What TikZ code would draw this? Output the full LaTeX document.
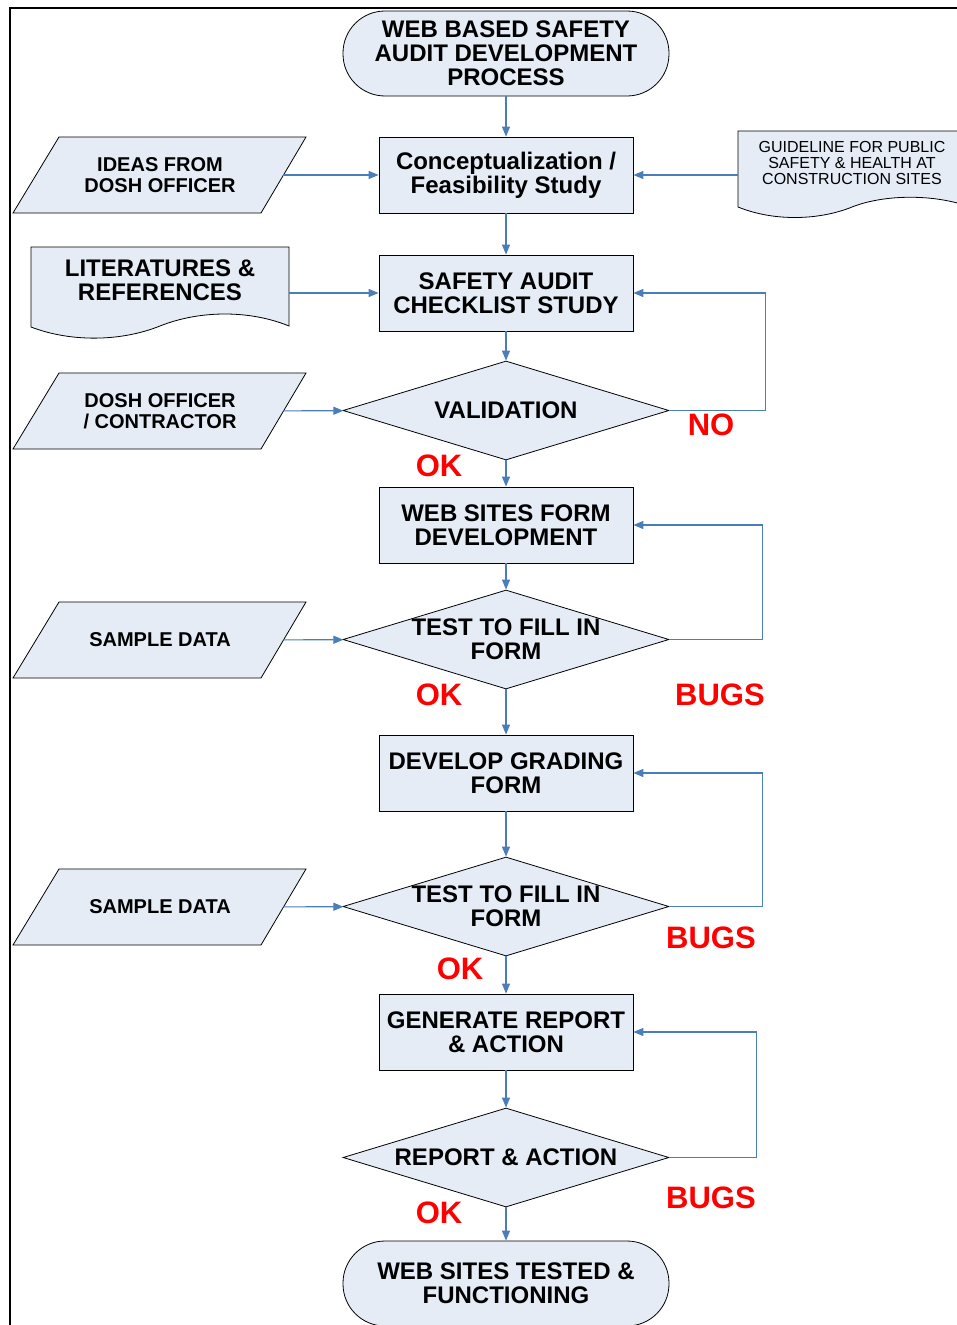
\documentclass[tikz,border=0pt]{standalone}
\usepackage{fontspec}
\setmainfont{Liberation Sans}
\usetikzlibrary{shapes.geometric,arrows.meta}

\definecolor{flowfill}{HTML}{E6ECF6}
\definecolor{flowblue}{HTML}{4A7EBB}
\definecolor{flowred}{HTML}{FF0000}

\begin{document}
\begin{tikzpicture}[x = 1pt, y = -1pt,
		every node/.style = {align = center, inner sep = 0pt},
		bigtext/.style = {font = \fontsize{24}{24}\selectfont\bfseries},
		midtext/.style = {font = \fontsize{20}{21}\selectfont\bfseries},
		smalltext/.style = {font = \fontsize{16}{16}\selectfont},
		redtext/.style = {text = flowred, font = \fontsize{31}{31}\selectfont\bfseries},
		shapeline/.style = {draw = black, fill = flowfill, line width = \mylinewidth},
		terminal/.style = {shapeline, rounded corners = 42pt, minimum width = 326, minimum height = 85, bigtext},
		process/.style = {shapeline, rectangle, minimum width = 254, minimum height = 76, bigtext},
		decision/.style = {shapeline, diamond, minimum width = 326, minimum height = 99},
		datain/.style = {rectangle, minimum width = 246, minimum height = 76, midtext},
		docarea/.style = {rectangle},
		flow/.style = {draw = flowblue, line width = \myarrowwidth, -{Triangle[length = 10pt, width = 8pt]}}]
		\def\mylinewidth{0.8pt}
		\def\myarrowwidth{1.1pt}
		\useasboundingbox (0,0) rectangle (957,1325);
		%--------------------

		\draw[line width = 2pt] (10,1325) -- (10,8) -- (957,8);

		% documents
		\filldraw[shapeline] (31,247) -- (289,247) -- (289,326) .. controls (250,310) and (200,310) .. (160,326)
			.. controls (120,342) and (70,342) .. (31,327) -- cycle;
		\filldraw[shapeline] (738,131) -- (970,131) -- (970,207) .. controls (935,194) and (885,194) .. (852,207)
			.. controls (820,220) and (775,222) .. (738,207) -- cycle;

		\node[docarea, minimum width = 258, minimum height = 92] (lit) at (160,293) {};
		\node[bigtext] at (160,280) {LITERATURES \&\\REFERENCES};
		\node[docarea, minimum width = 228, minimum height = 88] (guide) at (852,175) {};
		\node[smalltext] at (852,163) {GUIDELINE FOR PUBLIC\\SAFETY \& HEALTH AT\\CONSTRUCTION SITES};

		% data inputs
		\foreach \cy in {175, 411, 640, 907}
			\filldraw[shapeline] (13,\cy+38) -- (261,\cy+38) -- (306,\cy-38) -- (59,\cy-38) -- cycle;

		\node[datain] (ideas) at (160,175) {IDEAS FROM\\DOSH OFFICER};
		\node[datain] (dosh) at (160,411) {DOSH OFFICER\\/ CONTRACTOR};
		\node[datain] (samplea) at (160,640) {SAMPLE DATA};
		\node[datain] (sampleb) at (160,907) {SAMPLE DATA};

		%--------------------
		\node[terminal] (start) at (506,53.5) {WEB BASED SAFETY\\AUDIT DEVELOPMENT\\PROCESS};
		\node[process] (concept) at (506,175) {Conceptualization /\\Feasibility Study};
		\node[process] (check) at (506,293) {SAFETY AUDIT\\CHECKLIST STUDY};
		\node[decision, label = {[bigtext]center:VALIDATION}] (valid) at (506,410.5) {};
		\node[process] (webform) at (506,525) {WEB SITES FORM\\DEVELOPMENT};
		\node[decision, label = {[bigtext, align = center]center:TEST TO FILL IN\\FORM}] (testa) at (506,639.5) {};
		\node[process] (grading) at (506,773) {DEVELOP GRADING\\FORM};
		\node[decision, label = {[bigtext, align = center]center:TEST TO FILL IN\\FORM}] (testb) at (506,906.5) {};
		\node[process] (report) at (506,1032) {GENERATE REPORT\\\& ACTION};
		\node[decision, label = {[bigtext]center:REPORT \& ACTION}] (action) at (506,1157.5) {};
		\node[terminal] (finish) at (506,1283.5) {WEB SITES TESTED \&\\FUNCTIONING};

		%--------------------
		\draw[flow] (start) -- (concept);
		\draw[flow] (ideas) -- (concept);
		\draw[flow] (guide) -- (concept);
		\draw[flow] (concept) -- (check);
		\draw[flow] (lit) -- (check);
		\draw[flow] (check) -- (valid);
		\draw[flow] (dosh) -- (valid);
		\draw[flow] (valid.east) -- ++(96,0) |- (check.east);
		\draw[flow] (valid) -- (webform);
		\draw[flow] (webform) -- (testa);
		\draw[flow] (samplea) -- (testa);
		\draw[flow] (testa.east) -- ++(93,0) |- (webform.east);
		\draw[flow] (testa) -- (grading);
		\draw[flow] (grading) -- (testb);
		\draw[flow] (sampleb) -- (testb);
		\draw[flow] (testb.east) -- ++(93,0) |- (grading.east);
		\draw[flow] (testb) -- (report);
		\draw[flow] (report) -- (action);
		\draw[flow] (action.east) -- ++(87,0) |- (report.east);
		\draw[flow] (action) -- (finish);

		%--------------------
		\node[redtext] (noa) at (711,425) {NO};
		\node[redtext] (oka) at (439,466) {OK};
		\node[redtext] (okb) at (439,695) {OK};
		\node[redtext] (bugsa) at (720,695) {BUGS};
		\node[redtext] (bugsb) at (711,938) {BUGS};
		\node[redtext] (okc) at (460,969) {OK};
		\node[redtext] (bugsc) at (711,1198) {BUGS};
		\node[redtext] (okd) at (439,1213) {OK};
\end{tikzpicture}
\end{document}
